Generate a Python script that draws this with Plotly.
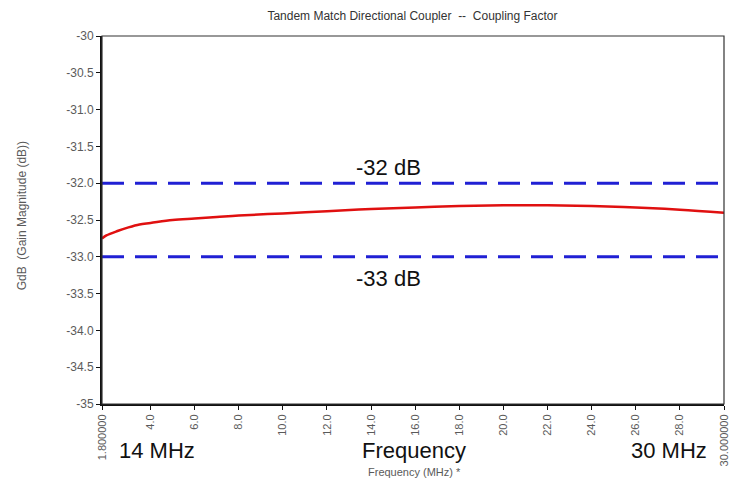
import plotly.graph_objects as go

# Measured coupling factor of the tandem match coupler
freq_mhz = [1.8, 2.0, 2.5, 3.0, 3.5, 4.0, 5.0, 6.0, 7.0, 8.0, 10.0, 12.0,
            14.0, 16.0, 18.0, 20.0, 21.0, 22.0, 24.0, 26.0, 28.0, 30.0]
gain_db = [-32.75, -32.71, -32.65, -32.60, -32.56, -32.54, -32.50, -32.48,
           -32.46, -32.44, -32.41, -32.38, -32.35, -32.33, -32.31, -32.30,
           -32.30, -32.30, -32.31, -32.33, -32.36, -32.40]

# Reference limits
limit_values = [-32, -33]
limit_labels = ["-32 dB", "-33 dB"]

x_tick_vals = [1.8, 4, 6, 8, 10, 12, 14, 16, 18, 20, 22, 24, 26, 28, 30]
x_tick_text = ["1.800000", "4.0", "6.0", "8.0", "10.0", "12.0", "14.0", "16.0",
               "18.0", "20.0", "22.0", "24.0", "26.0", "28.0", "30.000000"]
y_tick_vals = [-30, -30.5, -31, -31.5, -32, -32.5, -33, -33.5, -34, -34.5, -35]
y_tick_text = ["-30", "-30.5", "-31.0", "-31.5", "-32.0", "-32.5", "-33.0",
               "-33.5", "-34.0", "-34.5", "-35"]

band_labels = ["14 MHz", "Frequency", "30 MHz"]
band_label_x = [0.088, 0.502, 0.911]

FONT = "Arial, Liberation Sans, sans-serif"
GREY = "#5a5a5a"

fig = go.Figure()

for val in limit_values:
    fig.add_trace(go.Scatter(
        x=[freq_mhz[0], freq_mhz[-1]], y=[val, val], mode="lines",
        line=dict(color="#2020d4", width=3, dash="22px,11px"),
        hoverinfo="skip", showlegend=False))

fig.add_trace(go.Scatter(
    x=freq_mhz, y=gain_db, mode="lines",
    line=dict(color="#e01010", width=2.5, shape="spline"),
    showlegend=False))

annotations = []
for val, lab, shift in zip(limit_values, limit_labels, [16, -22]):
    annotations.append(dict(x=14.8, y=val, xref="x", yref="y", text=lab,
                            showarrow=False, yshift=shift, xanchor="center",
                            font=dict(family=FONT, size=22, color="#111111")))
for lab, px in zip(band_labels, band_label_x):
    annotations.append(dict(x=px, y=-0.125, xref="paper", yref="paper",
                            text=lab, showarrow=False, yanchor="middle",
                            xanchor="center",
                            font=dict(family=FONT, size=22, color="#111111")))

# Axis titles
annotations.append(dict(x=0.502, y=-0.185, xref="paper", yref="paper",
                        text="Frequency (MHz) *", showarrow=False,
                        xanchor="center", yanchor="middle",
                        font=dict(family=FONT, size=11, color=GREY)))
annotations.append(dict(x=-0.1286, y=0.51, xref="paper", yref="paper",
                        text="GdB  (Gain Magnitude (dB))", showarrow=False,
                        textangle=-90, xanchor="center", yanchor="middle",
                        font=dict(family=FONT, size=12, color=GREY)))

fig.update_layout(
    width=730, height=478,
    margin=dict(l=102, r=6, t=36, b=74, autoexpand=False),
    paper_bgcolor="white", plot_bgcolor="white",
    title=dict(text="Tandem Match Directional Coupler  --  Coupling Factor",
               x=0.565, xanchor="center", y=1 - 16 / 478, yanchor="middle",
               font=dict(family=FONT, size=12, color="#333333")),
    xaxis=dict(range=[1.8, 30], tickvals=x_tick_vals, ticktext=x_tick_text,
               tickangle=-90, showgrid=False, zeroline=False, automargin=False,
               showline=True, linecolor="#111111", linewidth=2,
               ticks="outside", ticklen=4, tickcolor="#111111",
               tickfont=dict(family=FONT, size=11, color=GREY)),
    yaxis=dict(range=[-35, -30], tickvals=y_tick_vals, ticktext=y_tick_text,
               showgrid=False, zeroline=False, automargin=False,
               showline=True, linecolor="#111111", linewidth=2,
               ticks="outside", ticklen=4, tickcolor="#111111",
               tickfont=dict(family=FONT, size=12, color=GREY)),
    annotations=annotations,
    shapes=[dict(type="rect", xref="paper", yref="paper", x0=0, y0=0, x1=1,
                 y1=1, line=dict(color="#333333", width=1.2),
                 fillcolor="rgba(0,0,0,0)", layer="above")],
)

fig.write_html("out.html")
